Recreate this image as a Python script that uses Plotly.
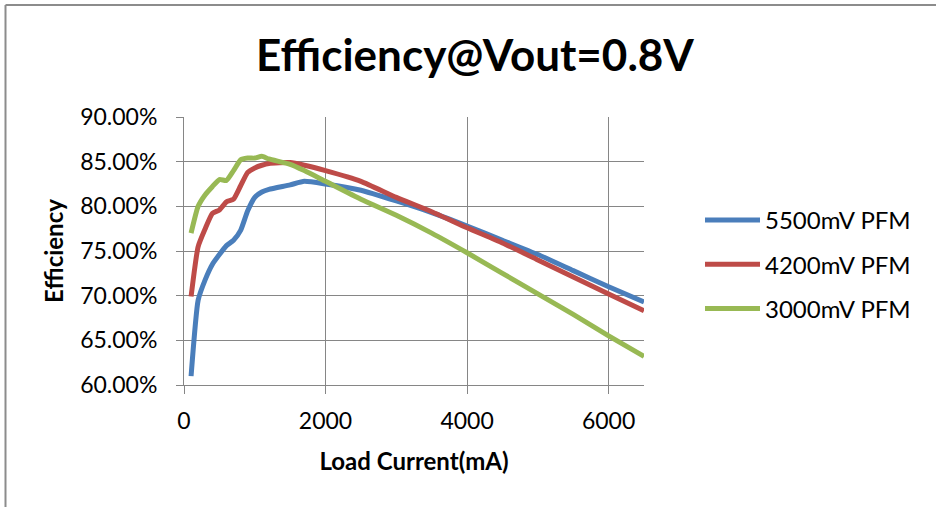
import plotly.graph_objects as go

# Data
load_current_ma = [100, 200, 300, 400, 500, 600, 700, 800, 900, 1000, 1100, 1200,
                   1500, 1700, 2000, 2500, 3000, 3500, 4000, 4500, 5000, 5500, 6000, 6500]

eff_5500mv = [61.0, 69.5, 71.8, 73.5, 74.6, 75.6, 76.2, 77.3, 79.5, 81.0, 81.6, 81.9,
              82.4, 82.8, 82.5, 81.8, 80.6, 79.3, 77.8, 76.2, 74.6, 72.8, 71.0, 69.3]
eff_4200mv = [69.9, 75.5, 77.5, 79.2, 79.6, 80.5, 80.8, 82.3, 83.8, 84.3, 84.6, 84.8,
              84.9, 84.6, 84.0, 82.8, 81.0, 79.4, 77.6, 75.9, 74.0, 72.1, 70.2, 68.3]
eff_3000mv = [77.0, 80.0, 81.3, 82.2, 83.0, 82.9, 84.0, 85.2, 85.4, 85.4, 85.6, 85.3,
              84.7, 84.0, 82.8, 80.8, 79.0, 77.0, 74.8, 72.5, 70.2, 67.9, 65.5, 63.2]

series_names = ["5500mV PFM", "4200mV PFM", "3000mV PFM"]
series_values = [eff_5500mv, eff_4200mv, eff_3000mv]
series_colors = ["#4A7EBB", "#BE4B48", "#98B954"]

x_ticks = [0, 2000, 4000, 6000]
y_ticks = [60, 65, 70, 75, 80, 85, 90]
y_tick_labels = [f"{v:.2f}%" for v in y_ticks]

FONT = "Lato"
GRID = "#868686"

fig = go.Figure()
for i, (name, vals, col) in enumerate(zip(series_names, series_values, series_colors)):
    fig.add_trace(go.Scatter(
        x=load_current_ma, y=vals, name=name, mode="lines",
        line=dict(color=col, width=5, shape="spline", smoothing=0.5),
        legendgroup=f"g{i}",
    ))

W, H = 936, 507
L, R, T, B = 184, 292, 117, 122
pw, ph = W - L - R, H - T - B

def px_x(p):
    return (p - L) / pw

def px_y(p):
    return (H - B - p) / ph

fig.update_layout(
    width=W, height=H,
    margin=dict(l=L, r=R, t=T, b=B, autoexpand=False),
    paper_bgcolor="white", plot_bgcolor="white",
    font=dict(family=FONT, color="black", size=23),
    title=dict(text="<b>Efficiency@Vout=0.8V</b>", font=dict(size=44, family=FONT, color="black"),
               x=px_x(475), xref="paper", xanchor="center",
               y=1 - 56 / H, yref="container", yanchor="middle"),
    xaxis=dict(range=[0, 6500], tickvals=x_ticks, showgrid=True, gridcolor=GRID, gridwidth=1,
               showline=True, linecolor=GRID, linewidth=1, ticks="outside", ticklen=8,
               tickcolor=GRID, tickfont=dict(size=23, family=FONT), ticklabelstandoff=7,
               zeroline=False,
               title=dict(text="<b>Load Current(mA)</b>", font=dict(size=24, family=FONT), standoff=20)),
    yaxis=dict(range=[60, 90], tickvals=y_ticks, ticktext=y_tick_labels,
               showgrid=True, gridcolor=GRID, gridwidth=1,
               showline=True, linecolor=GRID, linewidth=1, ticks="outside", ticklen=7,
               tickcolor=GRID, tickfont=dict(size=23, family=FONT), ticklabelstandoff=14,
               zeroline=False,
               title=dict(text="<b>Efficiency</b>", font=dict(size=24, family=FONT), standoff=9)),
    legend=dict(x=px_x(700), y=px_y(198), xanchor="left", yanchor="top",
                font=dict(size=24, family=FONT), tracegroupgap=10, itemwidth=55,
                bgcolor="rgba(0,0,0,0)", borderwidth=0),
    showlegend=True,
    shapes=[
        dict(type="line", xref="paper", yref="paper", x0=px_x(5.5), x1=px_x(5.5),
             y0=px_y(5), y1=px_y(H + 5), line=dict(color="#8C8C8C", width=2)),
        dict(type="line", xref="paper", yref="paper", x0=px_x(5.5), x1=px_x(W + 5),
             y0=px_y(5), y1=px_y(5), line=dict(color="#8C8C8C", width=2)),
    ],
)

fig.write_html("out.html", config={"displayModeBar": False},
               post_script="document.body.style.margin='0';")
